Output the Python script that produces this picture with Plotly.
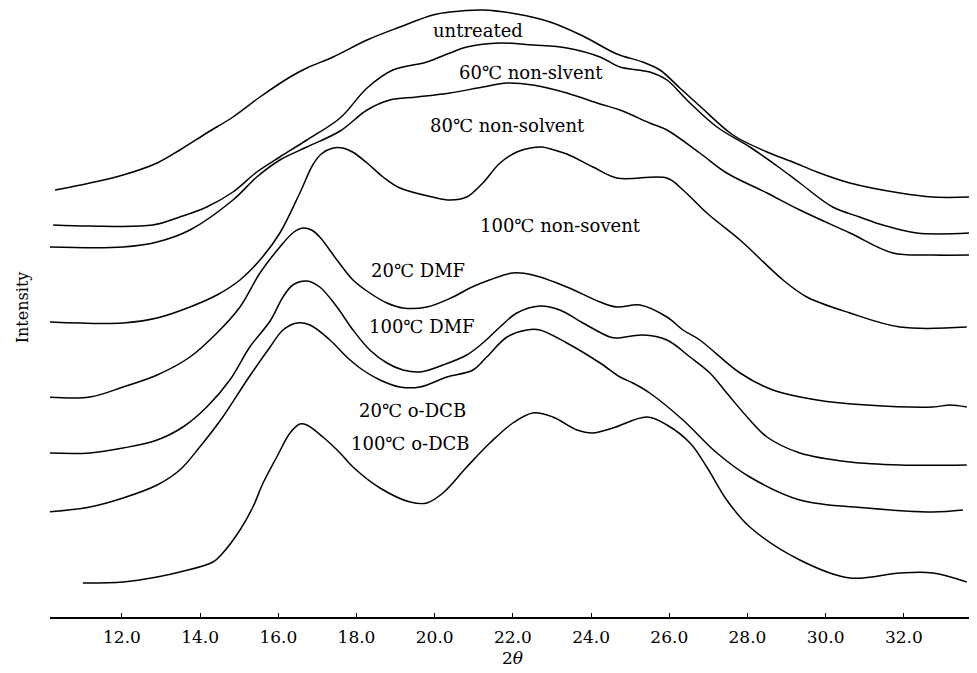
import plotly.graph_objects as go

# ---- data (2θ in degrees, intensity in arbitrary units, offset-stacked as in the figure) ----
untreated_x = [10.29, 11.18, 12.03, 12.90, 13.48, 14.17, 14.84, 15.53, 16.30, 16.73, 17.40, 18.27, 19.11, 19.95, 20.39,
               21.23, 22.10, 22.95, 23.79, 24.66, 25.32, 25.76, 26.27, 26.78, 27.63, 28.50, 29.16, 29.78, 30.62, 31.90,
               32.74, 33.76]
untreated_y = [427, 434, 442, 454, 467, 484, 500, 520, 540, 549, 560, 577, 590, 602, 605,
               607, 603, 595, 581, 563, 555, 547, 529, 511, 482, 465, 455, 445, 434, 424,
               420, 420]

ns60_x = [10.24, 11.18, 12.79, 13.48, 14.17, 14.84, 15.45, 16.04, 16.73, 17.58, 18.27, 18.93, 19.80, 20.39, 20.82,
          21.67, 22.51, 23.38, 24.23, 24.74, 25.50, 25.94, 26.45, 27.22, 28.06, 28.83, 29.34, 30.18, 30.87, 31.46,
          32.33, 33.69]
ns60_y = [392, 391, 392, 400, 410, 425, 445, 460, 477, 499, 529, 547, 555, 564, 570,
          574, 572, 569, 560, 550, 545, 537, 517, 490, 470, 449, 434, 410, 400, 392,
          384, 384]

ns80_x = [10.16, 12.03, 12.90, 13.74, 14.84, 15.45, 16.04, 16.73, 17.58, 18.27, 18.85, 19.54, 20.39, 21.23, 21.85,
          22.51, 23.38, 24.23, 24.74, 25.50, 25.94, 26.78, 27.47, 28.50, 29.34, 30.62, 31.72, 32.74, 33.76]
ns80_y = [370, 370, 375, 387, 417, 440, 457, 470, 486, 507, 517, 520, 524, 530, 534,
          532, 524, 513, 507, 494, 487, 464, 444, 424, 407, 384, 364, 362, 362]

ns100_x = [10.16, 12.03, 12.90, 13.74, 14.43, 15.02, 15.53, 16.04, 16.55, 16.88, 17.10, 17.40, 17.65, 17.90, 18.27,
           18.68, 19.11, 19.95, 20.39, 20.82, 21.23, 21.67, 22.10, 22.45, 22.75, 23.05, 23.38, 24.05, 24.66, 25.94,
           26.35, 26.96, 27.81, 28.91, 29.52, 30.62, 31.90, 33.61]
ns100_y = [295, 294, 299, 310, 322, 337, 357, 384, 424, 452, 463, 469, 469, 465, 454,
           440, 429, 420, 417, 420, 434, 454, 465, 469, 470, 467, 463, 450, 439, 439,
           427, 404, 377, 337, 320, 304, 290, 290]

dmf20_x = [10.11, 11.18, 12.03, 12.90, 13.74, 14.43, 15.02, 15.53, 16.04, 16.40, 16.63, 16.85, 17.06, 17.50, 17.91,
           18.34, 18.78, 19.19, 19.80, 20.47, 20.90, 21.40, 22.00, 22.51, 23.38, 24.23, 24.66, 25.25, 25.94, 26.35,
           26.78, 27.81, 28.65, 29.78, 31.05, 32.74, 33.18, 33.61]
dmf20_y = [220, 220, 230, 242, 260, 284, 310, 344, 370, 385, 389, 387, 380, 357, 337,
           324, 314, 309, 310, 320, 329, 337, 344, 342, 330, 315, 310, 312, 300, 287,
           277, 244, 227, 217, 212, 210, 212, 210]

dmf100_x = [10.08, 11.18, 12.03, 12.90, 13.56, 14.17, 14.76, 15.27, 15.79, 16.12, 16.37, 16.73, 17.06, 17.50, 17.91,
            18.34, 18.78, 19.19, 19.62, 20.21, 20.82, 21.23, 21.67, 22.10, 22.69, 23.20, 23.79, 24.48, 24.66, 25.32,
            25.94, 26.53, 27.04, 27.47, 28.06, 28.50, 29.34, 30.62, 31.90, 33.61]
dmf100_y = [164, 164, 169, 177, 190, 210, 237, 270, 296, 320, 332, 336, 330, 310, 287,
            267, 254, 247, 245, 252, 262, 274, 290, 304, 311, 307, 294, 280, 279, 282,
            277, 260, 244, 224, 197, 180, 164, 155, 152, 152]

dcb20_x = [10.11, 11.18, 12.03, 12.90, 13.48, 13.99, 14.58, 15.20, 15.79, 16.12, 16.48, 16.81, 17.32, 17.75, 18.16,
           18.60, 19.11, 19.62, 20.31, 20.98, 21.33, 21.85, 22.36, 22.69, 23.38, 24.23, 24.74, 25.07, 25.50, 26.35,
           27.22, 28.06, 29.34, 31.05, 32.74, 33.51]
dcb20_y = [105, 110, 119, 132, 147, 170, 200, 237, 270, 287, 294, 292, 277, 260, 247,
           237, 230, 230, 240, 247, 260, 280, 287, 287, 274, 254, 240, 234, 224, 197,
           164, 140, 117, 109, 105, 107]

dcb100_x = [11.00, 12.03, 12.90, 13.48, 14.33, 14.58, 15.02, 15.35, 15.61, 15.96, 16.30, 16.55, 16.73, 17.14, 17.58,
            17.91, 18.60, 19.37, 19.80, 20.21, 20.82, 21.41, 22.00, 22.51, 23.02, 23.64, 24.05, 24.56, 25.43, 25.94,
            26.53, 26.96, 27.47, 28.06, 29.34, 30.62, 31.90, 32.74, 33.61]
dcb100_y = [34, 35, 40, 45, 55, 64, 87, 110, 134, 160, 184, 193, 192, 180, 164,
            150, 129, 115, 114, 124, 150, 174, 194, 204, 200, 187, 184, 189, 200, 192,
            174, 150, 117, 90, 57, 39, 44, 44, 35]

series_names = ["untreated", "60℃ non-slvent", "80℃ non-solvent", "100℃ non-sovent",
                "20℃ DMF", "100℃ DMF", "20℃ o-DCB", "100℃ o-DCB"]
series_x = [untreated_x, ns60_x, ns80_x, ns100_x, dmf20_x, dmf100_x, dcb20_x, dcb100_x]
series_y = [untreated_y, ns60_y, ns80_y, ns100_y, dmf20_y, dmf100_y, dcb20_y, dcb100_y]

tick_vals = [12, 14, 16, 18, 20, 22, 24, 26, 28, 30, 32]
tick_text = ["12.0", "14.0", "16.0", "18.0", "20.0", "22.0", "24.0", "26.0", "28.0", "30.0", "32.0"]

# label anchor positions (2θ, intensity)
label_pos = [(21.10, 587), (22.46, 545), (21.85, 492), (23.23, 392),
             (19.57, 347), (19.67, 291), (19.42, 207), (19.39, 174)]

FONT = "DejaVu Serif"

fig = go.Figure()
for name, xs, ys in zip(series_names, series_x, series_y):
    fig.add_trace(go.Scatter(x=xs, y=ys, mode="lines", name=name,
                             line=dict(color="black", width=1.5, shape="spline", smoothing=1.0),
                             showlegend=False, hoverinfo="skip"))

for name, (lx, ly) in zip(series_names, label_pos):
    fig.add_annotation(x=lx, y=ly, text=name, showarrow=False,
                       font=dict(family=FONT, size=18, color="black"))

fig.add_annotation(xref="paper", yref="paper", x=-0.030, y=0.509, text="Intensity",
                   textangle=-90, showarrow=False, xanchor="center", yanchor="middle",
                   font=dict(family=FONT, size=16, color="black"))

fig.update_layout(
    width=977, height=673,
    margin=dict(l=42, r=10, t=0, b=64),
    paper_bgcolor="white", plot_bgcolor="white",
    xaxis=dict(range=[10.16, 33.82], showgrid=False, zeroline=False,
               showline=True, linecolor="black", linewidth=1.5,
               ticks="inside", ticklen=4, tickcolor="black", tickwidth=1.2,
               tickvals=tick_vals, ticktext=tick_text,
               ticklabelstandoff=4,
               tickfont=dict(family=FONT, size=17, color="black"),
               title=dict(text="2<i>θ</i>", font=dict(family=FONT, size=17, color="black"),
                          standoff=6)),
    yaxis=dict(range=[0, 609], visible=False),
)

fig.write_html("out.html")
